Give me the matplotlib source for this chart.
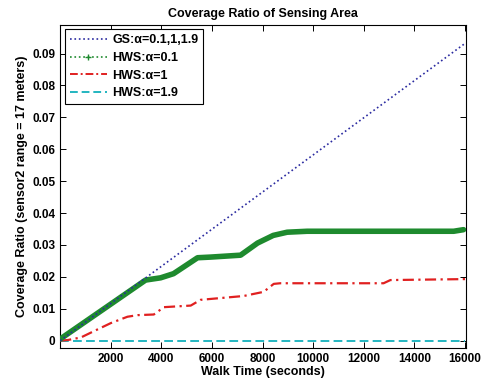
import matplotlib.pyplot as plt
from matplotlib.lines import Line2D

plt.rcParams['font.family'] = ['Liberation Sans', 'DejaVu Sans']
plt.rcParams['font.weight'] = 'bold'

# GS: alpha = 0.1, 1, 1.9 (straight line)
gs_time = [0, 16000]
gs_ratio = [0.0, 0.0932]

# HWS: alpha = 0.1
hws01_time = [0, 3377, 3970, 4480, 5430, 5940, 7130, 7800, 8420, 8970, 9760, 15550, 15940]
hws01_ratio = [0.0005, 0.0190, 0.0197, 0.0210, 0.0260, 0.0262, 0.0268, 0.0306, 0.0330, 0.0340, 0.0343, 0.0343, 0.0348]

# HWS: alpha = 1
hws1_time = [0, 300, 820, 1340, 2000, 2660, 3060, 3700, 4100, 5160, 5550, 7250, 8040, 8440, 8700, 12780, 13050, 16000]
hws1_ratio = [0.0, 0.0002, 0.0010, 0.0030, 0.0055, 0.0075, 0.0080, 0.0082, 0.0105, 0.0110, 0.0128, 0.0140, 0.0153, 0.0178, 0.0180, 0.0180, 0.0190, 0.0193]

# HWS: alpha = 1.9
hws19_time = [0, 16000]
hws19_ratio = [0.0, 0.0]

x_ticks = [2000, 4000, 6000, 8000, 10000, 12000, 14000, 16000]
y_ticks = [0, 0.01, 0.02, 0.03, 0.04, 0.05, 0.06, 0.07, 0.08, 0.09]
y_labels = ['0', '0.01', '0.02', '0.03', '0.04', '0.05', '0.06', '0.07', '0.08', '0.09']

fig = plt.figure(figsize=(4.85, 3.83), dpi=100)
ax = fig.add_axes([0.124, 0.0914, 0.837, 0.8436])

ax.plot(hws19_time, hws19_ratio, color='#22b5c0', linestyle=(0, (4.5, 2.2)), linewidth=1.4, zorder=2)
ax.plot(hws1_time, hws1_ratio, color='#e02020', linestyle=(0, (5, 2, 1, 2)), linewidth=1.6, zorder=3)
ax.plot(hws01_time, hws01_ratio, color='#1e8a2e', linestyle='-', linewidth=4, zorder=4,
        solid_capstyle='round')
ax.plot(gs_time, gs_ratio, color='#2a2aa0', linestyle=':', linewidth=1.2, zorder=5)

handles = [
    Line2D([], [], color='#2a2aa0', linestyle=':', linewidth=1.2),
    Line2D([], [], color='#1e8a2e', linestyle=':', linewidth=1.2, marker='+', markersize=4,
           markevery=[1]),
    Line2D([], [], color='#e02020', linestyle=(0, (4, 1.5, 1, 1.5)), linewidth=1.4),
    Line2D([], [], color='#22b5c0', linestyle=(0, (4, 2)), linewidth=1.4),
]
labels = ['GS:\u03b1=0.1,1,1.9', 'HWS:\u03b1=0.1', 'HWS:\u03b1=1', 'HWS:\u03b1=1.9']
leg = ax.legend(handles, labels, loc='upper left', fontsize=9, fancybox=False,
                framealpha=1, edgecolor='black', handlelength=3.0, borderpad=0.4,
                labelspacing=0.45, borderaxespad=0.35, handletextpad=0.4)
leg.get_frame().set_linewidth(0.8)

ax.set_xlim(0, 16040)
ax.set_ylim(-0.0023, 0.099)
ax.set_xticks(x_ticks)
ax.set_yticks(y_ticks)
ax.set_yticklabels(y_labels)
ax.tick_params(direction='in', top=True, right=True, labelsize=8.5, length=4, width=0.7)
for spine in ax.spines.values():
    spine.set_linewidth(0.8)

ax.set_title('Coverage Ratio of Sensing Area', fontsize=9, fontweight='bold', pad=6)
ax.set_xlabel('Walk Time (seconds)', fontsize=9, fontweight='bold', labelpad=1)
ax.set_ylabel('Coverage Ratio (sensor2 range = 17 meters)', fontsize=9, fontweight='bold', labelpad=3)

fig.savefig('out.png', dpi=100)
